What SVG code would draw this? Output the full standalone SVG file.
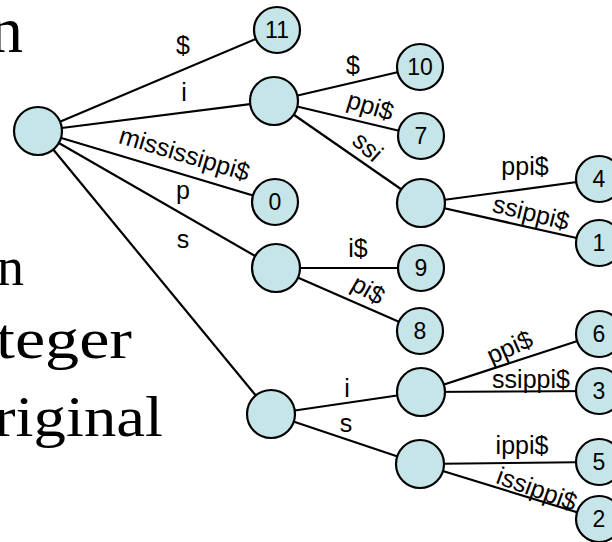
<svg xmlns="http://www.w3.org/2000/svg" width="612" height="542" viewBox="0 0 612 542">
<style>
.bg{font-family:"Liberation Serif","Times New Roman",serif;fill:#000}
.e{stroke:#000;stroke-width:2.2;fill:none}
.n{fill:#c5e5e8;stroke:#000;stroke-width:2.2}
.lab{font-family:"Liberation Sans",Arial,sans-serif;font-size:25px;fill:#000;text-anchor:middle}
.num{font-family:"Liberation Sans",Arial,sans-serif;font-size:23px;fill:#000;text-anchor:middle}
</style>
<rect width="612" height="542" fill="#fff"/>
<g id="background-text">
<text class="bg" x="-10" y="52" font-size="66">n</text>
<text class="bg" x="-3" y="285" font-size="54">n</text>
<text class="bg" x="-4" y="358" font-size="56" textLength="136" lengthAdjust="spacingAndGlyphs">teger</text>
<text class="bg" x="-6" y="436" font-size="56" textLength="169" lengthAdjust="spacingAndGlyphs">riginal</text>
</g>
<g id="connectors">
<line class="e" x1="38" y1="131" x2="277" y2="30"/>
<line class="e" x1="38" y1="131" x2="274" y2="101"/>
<line class="e" x1="38" y1="131" x2="275" y2="202"/>
<line class="e" x1="38" y1="131" x2="276" y2="268"/>
<line class="e" x1="38" y1="131" x2="271" y2="414"/>
<line class="e" x1="274" y1="101" x2="420" y2="67"/>
<line class="e" x1="274" y1="101" x2="421" y2="136"/>
<line class="e" x1="274" y1="101" x2="421" y2="203"/>
<line class="e" x1="421" y1="203" x2="599" y2="179"/>
<line class="e" x1="421" y1="203" x2="599" y2="243"/>
<line class="e" x1="276" y1="268" x2="421" y2="268"/>
<line class="e" x1="276" y1="268" x2="420" y2="331"/>
<line class="e" x1="271" y1="414" x2="421" y2="392"/>
<line class="e" x1="271" y1="414" x2="420" y2="464"/>
<line class="e" x1="421" y1="392" x2="599" y2="334"/>
<line class="e" x1="421" y1="392" x2="599" y2="391"/>
<line class="e" x1="420" y1="464" x2="599" y2="462"/>
<line class="e" x1="420" y1="464" x2="599" y2="519"/>
</g>
<g id="edge-labels">
<text class="lab" x="183" y="54">$</text>
<text class="lab" x="184" y="101">i</text>
<text class="lab" transform="translate(182,162) rotate(16.7)">mississippi$</text>
<text class="lab" x="183" y="199">p</text>
<text class="lab" x="183" y="248">s</text>
<text class="lab" x="353" y="74">$</text>
<text class="lab" transform="translate(368,114) rotate(17)">ppi$</text>
<text class="lab" transform="translate(362,153) rotate(42)">ssi</text>
<text class="lab" x="525" y="175">ppi$</text>
<text class="lab" transform="translate(529,221) rotate(14)">ssippi$</text>
<text class="lab" x="358" y="257">i$</text>
<text class="lab" transform="translate(364,297) rotate(30)">pi$</text>
<text class="lab" x="347" y="397">i</text>
<text class="lab" x="346" y="432">s</text>
<text class="lab" transform="translate(513,355) rotate(-24)">ppi$</text>
<text class="lab" x="531" y="388">ssippi$</text>
<text class="lab" x="522" y="454">ippi$</text>
<text class="lab" transform="translate(534,497) rotate(20)">issippi$</text>
</g>
<g id="node-root"><circle class="n" cx="38" cy="131" r="24"/></g>
<g id="node-11"><circle class="n" cx="277" cy="30" r="23"/><text class="num" x="277" y="38">11</text></g>
<g id="node-i"><circle class="n" cx="274" cy="101" r="24"/></g>
<g id="node-0"><circle class="n" cx="275" cy="202" r="23"/><text class="num" x="275" y="210">0</text></g>
<g id="node-p"><circle class="n" cx="276" cy="268" r="24"/></g>
<g id="node-s"><circle class="n" cx="271" cy="414" r="24"/></g>
<g id="node-10"><circle class="n" cx="420" cy="67" r="23"/><text class="num" x="420" y="75">10</text></g>
<g id="node-7"><circle class="n" cx="421" cy="136" r="23"/><text class="num" x="421" y="144">7</text></g>
<g id="node-ssi"><circle class="n" cx="421" cy="203" r="24"/></g>
<g id="node-4"><circle class="n" cx="599" cy="179" r="23"/><text class="num" x="599" y="187">4</text></g>
<g id="node-1"><circle class="n" cx="599" cy="243" r="23"/><text class="num" x="599" y="251">1</text></g>
<g id="node-9"><circle class="n" cx="421" cy="268" r="23"/><text class="num" x="421" y="276">9</text></g>
<g id="node-8"><circle class="n" cx="420" cy="331" r="23"/><text class="num" x="420" y="339">8</text></g>
<g id="node-si"><circle class="n" cx="421" cy="392" r="24"/></g>
<g id="node-ss"><circle class="n" cx="420" cy="464" r="24"/></g>
<g id="node-6"><circle class="n" cx="599" cy="334" r="23"/><text class="num" x="599" y="342">6</text></g>
<g id="node-3"><circle class="n" cx="599" cy="391" r="23"/><text class="num" x="599" y="399">3</text></g>
<g id="node-5"><circle class="n" cx="599" cy="462" r="23"/><text class="num" x="599" y="470">5</text></g>
<g id="node-2"><circle class="n" cx="599" cy="519" r="23"/><text class="num" x="599" y="527">2</text></g>
</svg>
